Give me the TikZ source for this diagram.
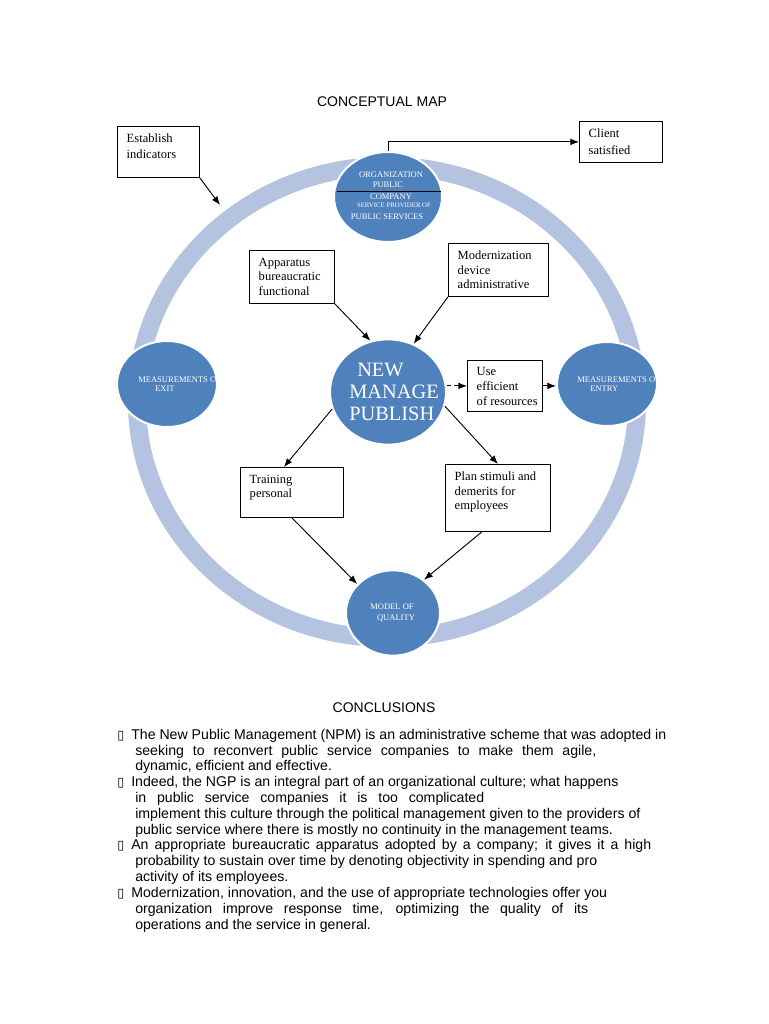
\documentclass[tikz,border=0pt]{standalone}
\usepackage{fontspec}
\setmainfont{Liberation Serif}
\newfontfamily\arial{Liberation Sans}
\newfontfamily\dejavu{DejaVu Sans}
\usetikzlibrary{shapes.geometric,arrows.meta}
\definecolor{ringblue}{RGB}{180,196,224}
\definecolor{blobblue}{RGB}{79,129,189}

\begin{document}
\begin{tikzpicture}[x=0.75pt,y=-0.75pt,
  blob/.style={ellipse,fill=blobblue,draw=white,line width=1.5pt,inner sep=0pt},
  caps/.style={text=white,inner sep=0pt,anchor=base,font=\fontsize{6.4}{7}\selectfont},
  bigcaps/.style={text=white,inner sep=0pt,anchor=base west,font=\fontsize{15.3}{16}\selectfont},
  tbox/.style={draw,fill=white,line width=0.6pt,anchor=north west,inner xsep=7pt,inner ysep=5.5pt,
    font=\fontsize{9.4}{11}\selectfont},
  heading/.style={anchor=base,inner sep=0pt,font=\arial\fontsize{10.5}{12}\selectfont},
  para/.style={anchor=base west,inner sep=0pt,font=\arial\fontsize{10.6}{12}\selectfont},
  arr/.style={-{Latex[length=6.5pt,width=5pt]},line width=0.7pt}]
    \newcommand{\inbox}[3]{\parbox[t][#2][t]{#1}{#3}}
    \newcommand{\tofu}{{\dejavu\fontsize{9.5}{12}\selectfont ▯}}

\useasboundingbox[fill=white] (0,0) rectangle (768,1024);

\node[heading] (title) at (382,106) {CONCEPTUAL MAP};

% ring and the five ellipses
\draw[ringblue,line width=13.5pt] (387,402) ellipse [x radius=187.5pt,y radius=177pt];

\node[blob,minimum width=81pt,minimum height=67.5pt] (org) at (388,197) {};
\node[blob,minimum width=75pt,minimum height=64.5pt] (exit) at (167,384) {};
\node[blob,minimum width=75pt,minimum height=63pt] (entry) at (607,384) {};
\node[blob,minimum width=87pt,minimum height=79pt] (npm) at (388,392) {};
\node[blob,minimum width=70.5pt,minimum height=64pt] (model) at (393,613) {};

\node[caps] (org1) at (391,177) {ORGANIZATION};
\node[caps] (org2) at (388,187) {PUBLIC};
\draw[line width=0.5pt] (337,191) -- (441,191);
\node[caps] (org3) at (391,199) {COMPANY};
\node[caps,font=\fontsize{5.1}{6}\selectfont] (org4) at (394,207) {SERVICE PROVIDER OF};
\node[caps] (org5) at (387,219) {PUBLIC SERVICES};

\begin{scope}
  \clip (exit.center) ellipse [x radius=37.5pt,y radius=32.25pt];
  \node[caps,anchor=base west] (exit1) at (138,382) {MEASUREMENTS O};
  \node[caps,anchor=base west] (exit2) at (155,391) {EXIT};
\end{scope}
\begin{scope}
  \clip (entry.center) ellipse [x radius=37.5pt,y radius=31.5pt];
  \node[caps,anchor=base west] (entry1) at (577,382) {MEASUREMENTS O};
  \node[caps,anchor=base west] (entry2) at (590,391) {ENTRY};
\end{scope}
\begin{scope}
  \clip (npm.center) ellipse [x radius=43.5pt,y radius=39.5pt];
  \node[bigcaps] (npm1) at (357,376) {NEW};
  \node[bigcaps] (npm2) at (349,398) {MANAGE};
  \node[bigcaps] (npm3) at (349,420) {PUBLISH};
\end{scope}

\node[caps] (model1) at (392,609) {MODEL OF};
\node[caps] (model2) at (396,620) {QUALITY};

% boxes
\node[tbox,font=\fontsize{9.4}{12}\selectfont] (est) at (117,126) {\inbox{47.5pt}{27.25pt}{Establish\\indicators}};
\node[tbox,font=\fontsize{9.4}{12.75}\selectfont] (client) at (579,121) {\inbox{48.25pt}{19.75pt}{Client\\satisfied}};
\node[tbox] (app) at (249,250) {\inbox{49.75pt}{28.75pt}{Apparatus\\bureaucratic\\functional}};
\node[tbox] (mod) at (448,243) {\inbox{61pt}{28.75pt}{Modernization\\device\\administrative}};
\node[tbox] (use) at (467,360) {\inbox{42.25pt}{27.25pt}{Use\\efficient\\\mbox{of resources}}};
\node[tbox] (train) at (240,467) {\inbox{63.25pt}{26.5pt}{Training\\personal}};
\node[tbox] (plan) at (445,464) {\inbox{64.75pt}{39.25pt}{Plan stimuli and\\demerits for\\employees}};

% arrows
\coordinate (ringhit) at (220,205);
\draw[arr] (est.south east) -- (ringhit);
\draw[arr] (org.north) |- (client.west);
\draw[arr] (app.south east) -- (npm.109);
\draw[arr] (mod.south west) -- (npm.62);
\draw[arr,dash pattern=on 3pt off 2pt] (use.west -| npm.east) -- (use.west);
\draw[arr] (use.east) -- (use.east -| entry.west);
\draw[arr] (npm.197) -- ([xshift=-6pt]train.north);
\draw[arr] (npm.-14) -- (plan.north);
\draw[arr] (train.south) -- (model.141);
\draw[arr] ([xshift=-12pt]plan.south) -- (model.47);

% conclusions
\node[heading] (concl) at (384,712) {CONCLUSIONS};

\node[para] (b1) at (117,739) {\tofu};
\node[para] (l1) at (131,739) {The New Public Management (NPM) is an administrative scheme that was adopted in};
\node[para] (l2) at (135,755) {\makebox[345.75pt][s]{seeking to reconvert public service companies to make them agile,}};
\node[para] (l3) at (135,770) {dynamic, efficient and effective.};
\node[para] (b2) at (117,786) {\tofu};
\node[para] (l4) at (131,786) {Indeed, the NGP is an integral part of an organizational culture; what happens};
\node[para] (l5) at (135,802) {\makebox[261.75pt][s]{in public service companies it is too complicated}};
\node[para] (l6) at (135,818) {implement this culture through the political management given to the providers of};
\node[para] (l7) at (135,834) {public service where there is mostly no continuity in the management teams.};
\node[para] (b3) at (117,849) {\tofu};
\node[para] (l8) at (131,849) {\makebox[390pt][s]{An appropriate bureaucratic apparatus adopted by a company; it gives it a high}};
\node[para] (l9) at (135,865) {probability to sustain over time by denoting objectivity in spending and pro};
\node[para] (l10) at (135,881) {activity of its employees.};
\node[para] (b4) at (117,897) {\tofu};
\node[para] (l11) at (131,897) {Modernization, innovation, and the use of appropriate technologies offer you};
\node[para] (l12) at (135,913) {\makebox[339.75pt][s]{organization improve response time, optimizing the quality of its}};
\node[para] (l13) at (135,929) {operations and the service in general.};

\end{tikzpicture}
\end{document}
